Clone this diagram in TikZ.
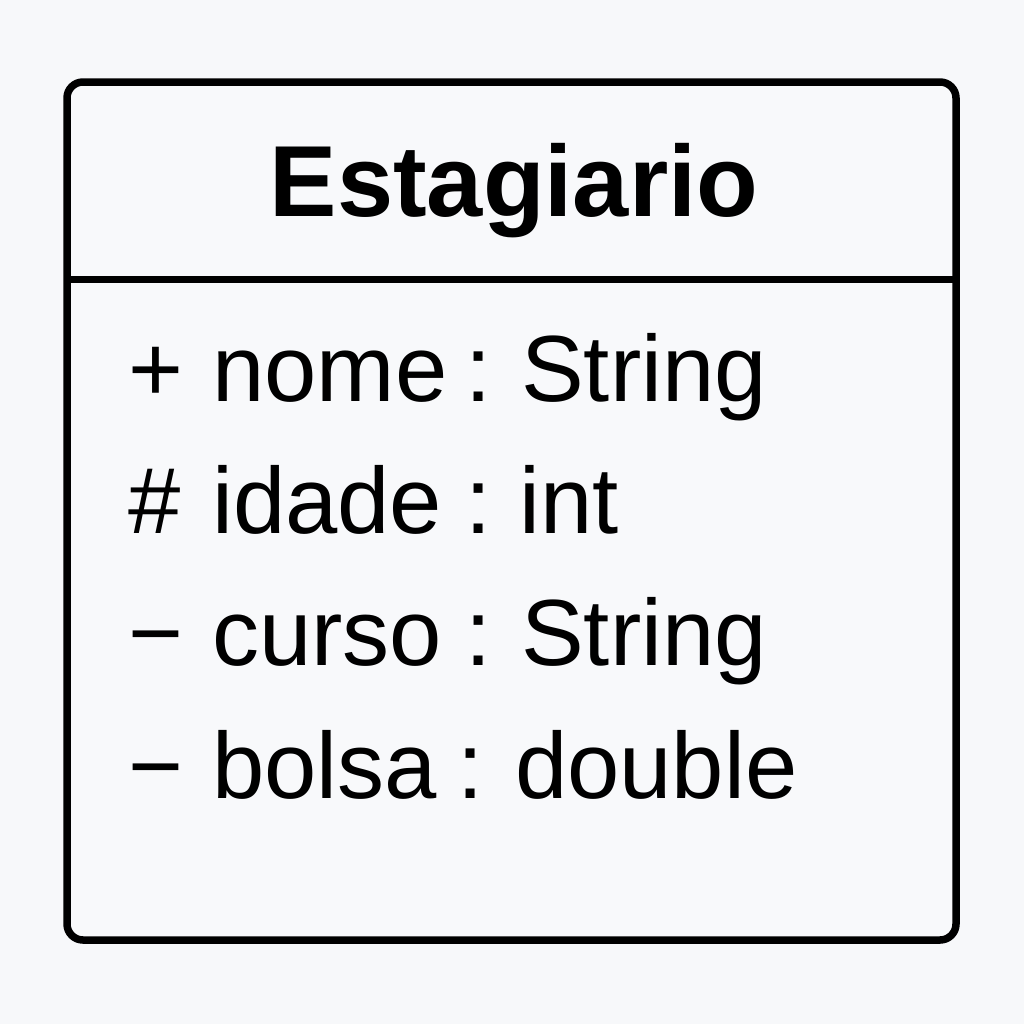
\documentclass[tikz,border=0pt]{standalone}
\usepackage{fontspec}
\setmainfont{Liberation Sans}
\definecolor{bgc}{HTML}{F7F8FA}
\definecolor{boxfill}{HTML}{F8F9FB}
\tikzset{
  umlbox/.style={draw=black, line width=7.5bp, rounded corners=16bp, fill=boxfill},
  divline/.style={draw=black, line width=7bp},
  titletext/.style={anchor=base, inner sep=0pt, font=\fontsize{101bp}{110bp}\selectfont\bfseries},
  attrtext/.style={anchor=base west, inner sep=0pt, font=\fontsize{94bp}{100bp}\selectfont}
}
\begin{document}
\begin{tikzpicture}[x=1bp,y=-1bp]
\fill[bgc] (0,0) rectangle (1024,1024);
\useasboundingbox (0,0) rectangle (1024,1024);
\draw[umlbox] (67,82) rectangle (956,940);
\coordinate (dl) at (67,279);
\coordinate (dr) at (956,279);
\draw[divline] (dl) -- (dr);
\node[titletext] (title) at (514,216) {Estagiario};
% line 1
\node[attrtext] (s1) at (128,401) {+};
\node[attrtext] (n1) at (212,401) {nome};
\node[attrtext] (c1) at (465,401) {:};
\node[attrtext] (t1) at (521,401) {String};
% line 2
\node[attrtext] (s2) at (128,533) {\#};
\node[attrtext] (n2) at (212,533) {idade};
\node[attrtext] (c2) at (465,533) {:};
\node[attrtext] (t2) at (519,533) {int};
% line 3
\node[attrtext] (s3) at (128,665) {−};
\node[attrtext] (n3) at (212,665) {curso};
\node[attrtext] (c3) at (465,665) {:};
\node[attrtext] (t3) at (521,665) {String};
% line 4
\node[attrtext] (s4) at (128,798) {−};
\node[attrtext] (n4) at (212,798) {bolsa};
\node[attrtext] (c4) at (457,798) {:};
\node[attrtext] (t4) at (515,798) {double};
\end{tikzpicture}
\end{document}
